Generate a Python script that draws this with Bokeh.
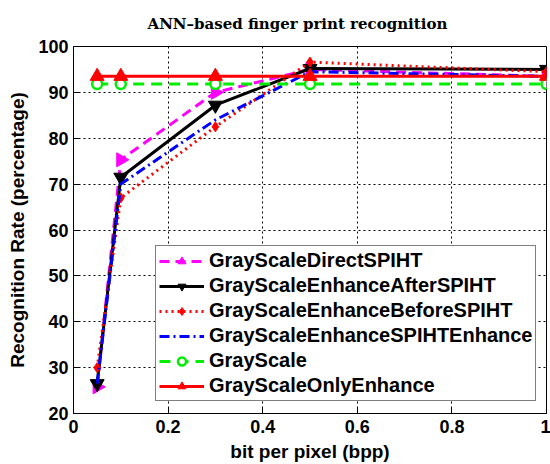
import numpy as np
from bokeh.plotting import figure
from bokeh.models import Legend, LegendItem, FixedTicker
from bokeh.embed import file_html
from bokeh.resources import INLINE

bpp = [0.05, 0.1, 0.3, 0.5, 1.0]
direct_spiht = [25.8, 75.3, 90, 95, 93.5]
enh_after_spiht = [26.5, 71.5, 87.2, 95.2, 95]
enh_before_spiht = [30, 67, 82.5, 96.6, 94.5]
enh_spiht_enh = [26.5, 70, 84, 94.5, 93.5]
grayscale = [91.8, 91.8, 91.8, 91.8, 91.8]
only_enhance = [93.5, 93.5, 93.5, 93.5, 93.5]

x_ticks = [0, 0.2, 0.4, 0.6, 0.8, 1.0]
x_tick_labels = ["0", "0.2", "0.4", "0.6", "0.8", "1"]
y_ticks = [20, 30, 40, 50, 60, 70, 80, 90, 100]

p = figure(width=550, height=464, output_backend="svg", toolbar_location=None,
           x_range=(0, 1), y_range=(20, 100),
           title="ANN\u2013based finger print recognition",
           min_border_left=73, min_border_right=4, min_border_top=46, min_border_bottom=49)

p.title.align = "left"
p.title.vertical_align = "top"
p.title.offset = 74
p.title.text_font = "DejaVu Serif"
p.title.text_font_style = "bold"
p.title.text_font_size = "15px"
p.title.text_color = "black"
p.title.standoff = 24

p.outline_line_color = "black"
p.outline_line_width = 1
p.background_fill_color = "white"
p.border_fill_color = "white"

for ax in (p.xaxis[0], p.yaxis[0]):
    ax.major_label_text_font = "Liberation Sans"
    ax.major_label_text_font_style = "bold"
    ax.major_label_text_font_size = "18px"
    ax.major_label_text_color = "black"
    ax.axis_label_text_font = "Liberation Sans"
    ax.axis_label_text_font_style = "bold"
    ax.axis_label_text_font_size = "19px"
    ax.axis_label_text_color = "black"
    ax.major_tick_in = 6
    ax.major_tick_out = 0
    ax.minor_tick_in = 0
    ax.minor_tick_out = 0
    ax.axis_line_color = "black"
    ax.major_tick_line_color = "black"

p.xaxis.ticker = FixedTicker(ticks=x_ticks)
p.xaxis.major_label_overrides = {t: l for t, l in zip(x_ticks, x_tick_labels)}
p.yaxis.ticker = FixedTicker(ticks=y_ticks)
p.xaxis.axis_label = "bit per pixel (bpp)"
p.yaxis.axis_label = "Recognition Rate (percentage)"
p.xaxis.major_label_standoff = 6
p.yaxis.major_label_standoff = 5
p.xaxis.axis_label_standoff = 5
p.yaxis.axis_label_standoff = 7

for g in (p.xgrid[0], p.ygrid[0]):
    g.grid_line_color = "black"
    g.grid_line_dash = "2 3"
    g.grid_line_width = 1

lw = 3
items = []

r1 = p.line(bpp, direct_spiht, line_color="#ff00ff", line_width=lw, line_dash="10 6")
m1 = p.scatter(bpp, direct_spiht, marker="triangle", angle=-np.pi / 2, size=14,
               fill_color="#ff00ff", line_color="#ff00ff")
items.append(LegendItem(label="GrayScaleDirectSPIHT", renderers=[r1, m1]))

r2 = p.line(bpp, enh_after_spiht, line_color="black", line_width=lw)
m2 = p.scatter(bpp, enh_after_spiht, marker="inverted_triangle", size=14,
               fill_color="black", line_color="black")
items.append(LegendItem(label="GrayScaleEnhanceAfterSPIHT", renderers=[r2, m2]))

r3 = p.line(bpp, enh_before_spiht, line_color="red", line_width=lw, line_dash="2 4")
m3 = p.scatter(bpp, enh_before_spiht, marker="diamond", size=10,
               fill_color="red", line_color="red")
items.append(LegendItem(label="GrayScaleEnhanceBeforeSPIHT", renderers=[r3, m3]))

r4 = p.line(bpp, enh_spiht_enh, line_color="blue", line_width=lw, line_dash="10 4 2 4")
items.append(LegendItem(label="GrayScaleEnhanceSPIHTEnhance", renderers=[r4]))

r5 = p.line(bpp, grayscale, line_color="#00ee00", line_width=lw, line_dash="11 7")
m5 = p.scatter(bpp, grayscale, marker="circle", size=10, fill_color="white",
               line_color="#00ee00", line_width=2.5)
items.append(LegendItem(label="GrayScale", renderers=[r5, m5]))

r6 = p.line(bpp, only_enhance, line_color="red", line_width=lw)
m6 = p.scatter(bpp, only_enhance, marker="triangle", size=14,
               fill_color="red", line_color="red")
items.append(LegendItem(label="GrayScaleOnlyEnhance", renderers=[r6, m6]))

legend = Legend(items=items, location=(82, 12))
legend.label_text_font = "Liberation Sans"
legend.label_text_font_style = "bold"
legend.label_text_font_size = "20px"
legend.label_text_color = "black"
legend.glyph_width = 45
legend.glyph_height = 20
legend.label_height = 20
legend.spacing = 2
legend.padding = 3
legend.margin = 0
legend.label_standoff = 5
legend.border_line_color = "black"
legend.border_line_width = 1
legend.background_fill_alpha = 1
p.add_layout(legend, "center")

open("out.html", "w").write(file_html(p, INLINE))
